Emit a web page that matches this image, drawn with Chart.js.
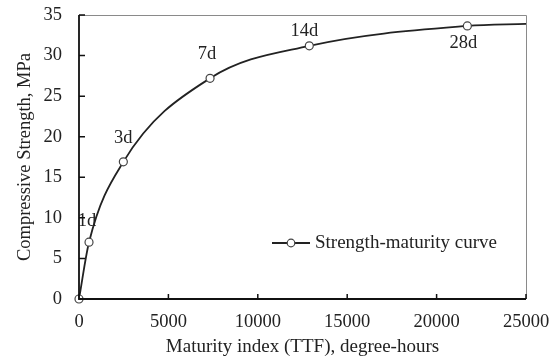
<!DOCTYPE html>
<html>
<head>
<meta charset="utf-8">
<script src="https://cdn.jsdelivr.net/npm/chart.js@4/dist/chart.umd.min.js"></script>
<style>
html,body{margin:0;padding:0;background:#fff;}
#wrap{width:558px;height:358px;position:relative;}
</style>
</head>
<body>
<div id="wrap"><canvas id="c" width="558" height="358"></canvas></div>
<script>
// Data
const maturity = [0, 560, 2480, 7330, 12880, 21720, 25000];   // degree-hours
const strength = [0, 7.0, 16.9, 27.2, 31.2, 33.65, 33.9];     // MPa
const ageLabels = ["", "1d", "3d", "7d", "14d", "28d", ""];
const showMarker = [true, true, true, true, true, true, false];
const xTicks = [0, 5000, 10000, 15000, 20000, 25000];
const yTicks = [0, 5, 10, 15, 20, 25, 30, 35];
const seriesName = "Strength-maturity curve";
const xTitle = "Maturity index (TTF), degree-hours";
const yTitle = "Compressive Strength, MPa";

const FONT = "'Liberation Serif', 'Times New Roman', serif";
const LINE = '#222';

const pts = maturity.map((x, i) => ({x: x, y: strength[i]}));

// label offsets (styling only)
const labelOffsets = [[0,0],[-2,-21],[0,-24],[-3,-24],[-5,-15],[-4,17],[0,0]];

const decor = {
  id: 'decor',
  afterDraw(chart) {
    const ctx = chart.ctx;
    const a = chart.chartArea;
    const xs = chart.scales.x, ys = chart.scales.y;
    ctx.save();
    ctx.strokeStyle = '#8a8a8a';
    ctx.lineWidth = 1;
    ctx.beginPath();
    ctx.moveTo(a.left, a.top + 0.5);
    ctx.lineTo(a.right + 0.5, a.top + 0.5);
    ctx.lineTo(a.right + 0.5, a.bottom);
    ctx.stroke();
    ctx.strokeStyle = '#111';
    ctx.lineWidth = 1.5;
    ctx.beginPath();
    yTicks.forEach(v => {
      const y = ys.getPixelForValue(v);
      ctx.moveTo(a.left, y); ctx.lineTo(a.left + 6, y);
    });
    xTicks.forEach(v => {
      const x = xs.getPixelForValue(v);
      ctx.moveTo(x, a.bottom); ctx.lineTo(x, a.bottom - 5);
    });
    ctx.stroke();
    ctx.lineWidth = 1.8;
    ctx.beginPath();
    ctx.moveTo(a.left, a.top); ctx.lineTo(a.left, a.bottom);
    ctx.lineTo(a.right, a.bottom);
    ctx.stroke();
    ctx.restore();
  }
};

const annot = {
  id: 'annot',
  afterDatasetsDraw(chart) {
    const ctx = chart.ctx;
    const meta = chart.getDatasetMeta(0);
    ctx.save();
    ctx.font = '18.5px ' + FONT;
    ctx.fillStyle = '#222';
    ctx.textAlign = 'center';
    ctx.textBaseline = 'middle';
    meta.data.forEach((p, i) => {
      if (!ageLabels[i]) return;
      ctx.fillText(ageLabels[i], p.x + labelOffsets[i][0], p.y + labelOffsets[i][1]);
    });
    const a = chart.chartArea;
    const lx = a.left + 193, ly = a.bottom - 56;
    ctx.strokeStyle = LINE;
    ctx.lineWidth = 1.8;
    ctx.beginPath();
    ctx.moveTo(lx, ly); ctx.lineTo(lx + 38, ly);
    ctx.stroke();
    ctx.beginPath();
    ctx.arc(lx + 19, ly, 3.8, 0, Math.PI * 2);
    ctx.fillStyle = '#fff';
    ctx.fill();
    ctx.lineWidth = 1.2;
    ctx.strokeStyle = '#444';
    ctx.stroke();
    ctx.fillStyle = '#222';
    ctx.textAlign = 'left';
    ctx.font = '19px ' + FONT;
    ctx.fillText(seriesName, lx + 43, ly);
    ctx.restore();
  }
};

new Chart(document.getElementById('c'), {
  type: 'line',
  data: {
    datasets: [{
      label: seriesName,
      data: pts,
      borderColor: LINE,
      borderWidth: 1.8,
      cubicInterpolationMode: 'monotone',
      pointRadius: showMarker.map(s => s ? 4 : 0),
      pointBackgroundColor: '#fff',
      pointBorderColor: '#444',
      pointBorderWidth: 1.2,
      clip: false
    }]
  },
  options: {
    responsive: false,
    animation: false,
    devicePixelRatio: 1,
    layout: {padding: {top: 15, right: 32, left: 0, bottom: 0}},
    plugins: {legend: {display: false}, tooltip: {enabled: false}},
    scales: {
      x: {
        type: 'linear', min: 0, max: 25000,
        afterBuildTicks: s => { s.ticks = xTicks.map(v => ({value: v})); },
        afterFit: s => { s.height = 59; s.paddingLeft = 0; s.paddingRight = 0; },
        grid: {display: false, drawTicks: false},
        border: {display: false},
        ticks: {font: {family: FONT, size: 18.5}, color: '#222', padding: 12, maxRotation: 0,
                callback: v => String(v)},
        title: {display: true, text: xTitle, font: {family: FONT, size: 19}, color: '#222', padding: {top: 0, bottom: 0}}
      },
      y: {
        type: 'linear', min: 0, max: 35,
        afterBuildTicks: s => { s.ticks = yTicks.map(v => ({value: v})); },
        afterFit: s => { s.width = 79; s.paddingTop = 0; s.paddingBottom = 0; },
        grid: {display: false, drawTicks: false},
        border: {display: false},
        ticks: {font: {family: FONT, size: 18.5}, color: '#222', padding: 17},
        title: {display: true, text: yTitle, font: {family: FONT, size: 18.5}, color: '#222', padding: {top: 14, bottom: 0}}
      }
    }
  },
  plugins: [decor, annot]
});
</script>
</body>
</html>
